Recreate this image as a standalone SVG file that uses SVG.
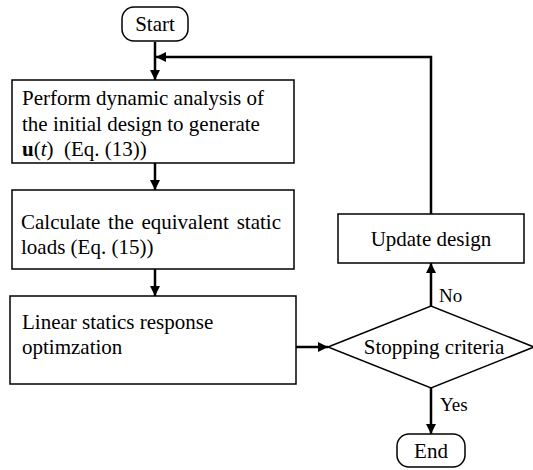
<svg xmlns="http://www.w3.org/2000/svg" width="533" height="470" viewBox="0 0 533 470">
<defs>
<marker id="ah" viewBox="0 0 10 10" refX="10" refY="5" markerWidth="10" markerHeight="10" markerUnits="userSpaceOnUse" orient="auto">
<path d="M0,0 L10,5 L0,10 Z" fill="#000"/>
</marker>
</defs>
<style>
text{font-family:"Liberation Serif","Times New Roman",serif;font-size:21px;fill:#000;white-space:pre}
.box{fill:#fff;stroke:#000;stroke-width:1.5}
.c{fill:none;stroke:#000;stroke-width:2.5}
.lbl{font-size:19px}
.m{text-anchor:middle}
</style>
<rect width="533" height="470" fill="#fff"/>
<g id="connectors">
<line class="c" x1="155" y1="42" x2="155" y2="80" marker-end="url(#ah)"/>
<polyline class="c" points="431,214 431,57 156,57" marker-end="url(#ah)"/>
<line class="c" x1="155" y1="163" x2="155" y2="190" marker-end="url(#ah)"/>
<line class="c" x1="155" y1="269" x2="155" y2="296" marker-end="url(#ah)"/>
<line class="c" x1="296" y1="347" x2="328" y2="347" marker-end="url(#ah)"/>
<line class="c" x1="431" y1="306" x2="431" y2="263" marker-end="url(#ah)"/>
<line class="c" x1="431" y1="388" x2="431" y2="434" marker-end="url(#ah)"/>
<text class="lbl" x="439" y="302">No</text>
<text class="lbl" x="440" y="411">Yes</text>
</g>
<g id="start">
<rect class="box" x="122" y="7" width="66" height="34" rx="12"/>
<text class="m" x="155" y="31">Start</text>
</g>
<g id="dynamic">
<rect class="box" x="12" y="80" width="282" height="83"/>
<text x="22" y="105">Perform dynamic analysis of</text>
<text x="22" y="131">the initial design to generate</text>
<text x="22" y="156"><tspan font-weight="bold">u</tspan>(<tspan font-style="italic">t</tspan>)  (Eq. (13))</text>
</g>
<g id="loads">
<rect class="box" x="12" y="190" width="282" height="79"/>
<text x="21" y="229" word-spacing="2.5">Calculate the equivalent static</text>
<text x="21" y="254">loads (Eq. (15))</text>
</g>
<g id="linear">
<rect class="box" x="10" y="296" width="286" height="88"/>
<text x="22" y="329">Linear statics response</text>
<text x="22" y="354">optimzation</text>
</g>
<g id="stopping">
<polygon class="box" points="328,347 431,306 534,347 431,388"/>
<text class="m" x="434" y="354">Stopping criteria</text>
</g>
<g id="update">
<rect class="box" x="338" y="214" width="186" height="49"/>
<text class="m" x="431" y="246">Update design</text>
</g>
<g id="end">
<rect class="box" x="397" y="434" width="68" height="33" rx="12"/>
<text class="m" x="431" y="458">End</text>
</g>
</svg>
